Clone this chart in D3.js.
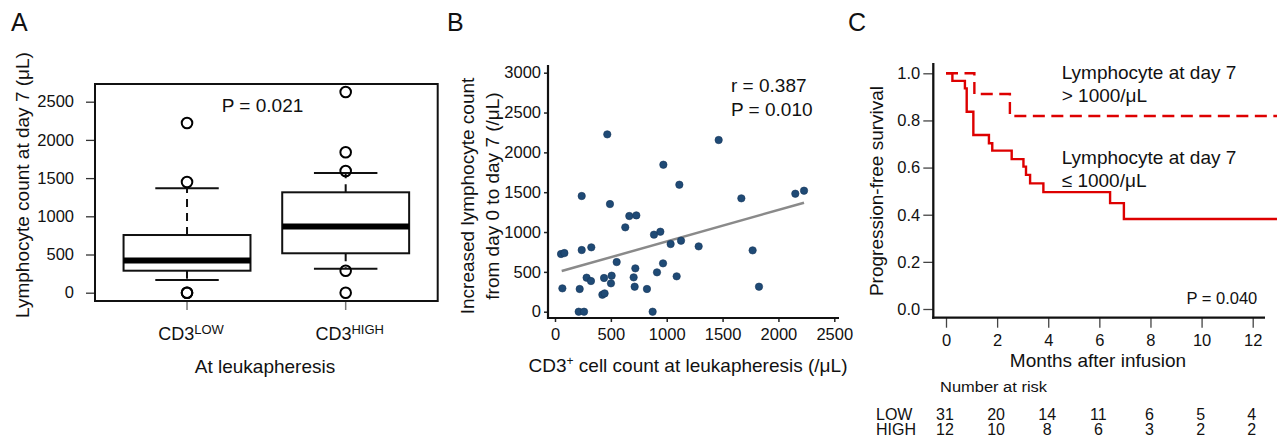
<!DOCTYPE html>
<html>
<head>
<meta charset="utf-8">
<script src="https://cdn.jsdelivr.net/npm/d3@7"></script>
<style>
  body { margin: 0; background: #fff; }
  svg text { font-family: "Liberation Sans", Arial, sans-serif; fill: #111; }
</style>
</head>
<body>
<div id="chart"></div>
<script>
// ---- Panel A: boxplot data (lymphocyte count at day 7) ----
const boxGroups = ['LOW', 'HIGH'];
const boxQ1 = [288, 516];
const boxMedian = [420, 865];
const boxQ3 = [755, 1314];
const whiskerLow = [166, 314];
const whiskerHigh = [1366, 1567];
const outliers = [
  [0, 0, 1449, 2221],
  [0, 288, 1593, 1838, 2627]
];
const boxTicks = [0, 500, 1000, 1500, 2000, 2500];

// ---- Panel B: scatter data ----
const cd3Count = [54, 84, 66, 239, 239, 221, 212, 260, 325, 283, 322, 468, 492, 439, 424, 444,
  507, 501, 552, 629, 665, 728, 719, 704, 713, 823, 874, 886, 943, 970, 967, 913, 1035, 1128,
  1113, 1089, 1286, 1465, 1668, 1769, 1826, 2151, 2229];
const lymphIncrease = [724, 736, 293, 1452, 774, 285, 0, 0, 808, 427, 385, 2226, 1351, 423, 213, 230,
  452, 356, 623, 1059, 1201, 1209, 544, 431, 314, 285, 0, 967, 1004, 1845, 607, 494, 849, 891,
  1594, 444, 820, 2155, 1423, 770, 314, 1481, 1519];
const trendX = [60, 2229];
const trendY = [510, 1368];
const scatterXTicks = [0, 500, 1000, 1500, 2000, 2500];
const scatterYTicks = [0, 500, 1000, 1500, 2000, 2500, 3000];

// ---- Panel C: Kaplan-Meier curves ----
const lowTimes = [0, 0.25, 0.74, 0.81, 1.07, 1.68, 1.81, 2.57, 3.03, 3.13, 3.29, 3.81, 6.42, 6.96, 12.95];
const lowSurv = [1.0, 0.968, 0.936, 0.837, 0.738, 0.703, 0.672, 0.636, 0.604, 0.569, 0.533, 0.496, 0.449, 0.382, 0.382];
const highTimes = [0, 1.11, 2.5, 12.95];
const highSurv = [1.0, 0.912, 0.819, 0.819];
const monthTicks = [0, 2, 4, 6, 8, 10, 12];
const survTicks = [0, 0.2, 0.4, 0.6, 0.8, 1.0];
const riskLow = [31, 20, 14, 11, 6, 5, 4];
const riskHigh = [12, 10, 8, 6, 3, 2, 2];

const width = 1285, height = 443;
const svg = d3.select('#chart').append('svg')
  .attr('width', width)
  .attr('height', height);

svg.append('rect').attr('width', width).attr('height', height).attr('fill', '#fff');

const tickFont = 16.5;
const titleFont = 19;
const plain = d3.format('d');

// panel letters
[['A', 11], ['B', 447], ['C', 848]].forEach(function(d) {
  svg.append('text').attr('x', d[1]).attr('y', 31)
    .style('font-size', '25px').text(d[0]);
});

// ================= Panel A =================
const xA = d3.scaleLinear().domain([0.42, 2.58]).range([95, 437.7]);
const yA = d3.scaleLinear().domain([0, 2500]).range([292.7, 101.7]);
const gA = svg.append('g');

// x ticks (grey, below frame)
gA.selectAll('.xtick').data(boxGroups).enter().append('line')
  .attr('x1', (d, i) => xA(i + 1)).attr('x2', (d, i) => xA(i + 1))
  .attr('y1', 301).attr('y2', 310)
  .attr('stroke', '#777').attr('stroke-width', 1.5);

const yAxisA = gA.append('g')
  .attr('transform', 'translate(95,0)')
  .call(d3.axisLeft(yA).tickValues(boxTicks).tickFormat(plain)
    .tickSize(9).tickPadding(12).tickSizeOuter(0));
yAxisA.select('.domain').remove();
yAxisA.selectAll('line').attr('stroke', '#333').attr('stroke-width', 1.3);
yAxisA.selectAll('text').style('font-size', tickFont + 'px').attr('fill', '#111')
  .style('font-family', '"Liberation Sans", Arial, sans-serif');

const hw = 0.4, cw = 0.2;
boxGroups.forEach(function(g, i) {
  const cx = i + 1;
  const box = gA.append('g');
  // dashed whiskers
  box.append('line')
    .attr('x1', xA(cx)).attr('x2', xA(cx))
    .attr('y1', yA(boxQ3[i])).attr('y2', yA(whiskerHigh[i]))
    .attr('stroke', '#111').attr('stroke-width', 2).attr('stroke-dasharray', '8,6');
  box.append('line')
    .attr('x1', xA(cx)).attr('x2', xA(cx))
    .attr('y1', yA(boxQ1[i])).attr('y2', yA(whiskerLow[i]))
    .attr('stroke', '#111').attr('stroke-width', 2).attr('stroke-dasharray', '8,6');
  // caps
  [whiskerLow[i], whiskerHigh[i]].forEach(function(v) {
    box.append('line')
      .attr('x1', xA(cx - cw)).attr('x2', xA(cx + cw))
      .attr('y1', yA(v)).attr('y2', yA(v))
      .attr('stroke', '#111').attr('stroke-width', 2);
  });
  box.append('rect')
    .attr('x', xA(cx - hw)).attr('width', xA(cx + hw) - xA(cx - hw))
    .attr('y', yA(boxQ3[i])).attr('height', yA(boxQ1[i]) - yA(boxQ3[i]))
    .attr('fill', '#fff').attr('stroke', '#111').attr('stroke-width', 2);
  box.append('line')
    .attr('x1', xA(cx - hw)).attr('x2', xA(cx + hw))
    .attr('y1', yA(boxMedian[i])).attr('y2', yA(boxMedian[i]))
    .attr('stroke', '#000').attr('stroke-width', 6);
  box.selectAll('circle').data(outliers[i]).enter().append('circle')
    .attr('cx', xA(cx)).attr('cy', d => yA(d)).attr('r', 5.3)
    .attr('fill', 'none').attr('stroke', '#000').attr('stroke-width', 2);

  const lab = gA.append('text')
    .attr('x', xA(cx) + 4).attr('y', 339.5)
    .attr('text-anchor', 'middle')
    .style('font-size', '18px');
  lab.append('tspan').text('CD3');
  lab.append('tspan').attr('dy', -6).style('font-size', '13px').text(g);
});

// frame
gA.append('rect').attr('x', 95).attr('y', 84).attr('width', 342.7).attr('height', 217)
  .attr('fill', 'none').attr('stroke', '#111').attr('stroke-width', 2);

gA.append('text').attr('x', 262.5).attr('y', 111.7).attr('text-anchor', 'middle')
  .style('font-size', titleFont + 'px').text('P = 0.021');
gA.append('text').attr('x', 265).attr('y', 373).attr('text-anchor', 'middle')
  .style('font-size', titleFont + 'px').text('At leukapheresis');
gA.append('text').attr('transform', 'translate(29,185) rotate(-90)').attr('text-anchor', 'middle')
  .style('font-size', titleFont + 'px').text('Lymphocyte count at day 7 (μL)');

// ================= Panel B =================
const xB = d3.scaleLinear().domain([0, 2500]).range([555, 834.3]);
const yB = d3.scaleLinear().domain([0, 3000]).range([311.7, 72.7]);
const gB = svg.append('g');

const yAxisB = gB.append('g').attr('transform', 'translate(548,0)')
  .call(d3.axisLeft(yB).tickValues(scatterYTicks).tickFormat(plain)
    .tickSize(4).tickPadding(3).tickSizeOuter(0));
const xAxisB = gB.append('g').attr('transform', 'translate(0,318)')
  .call(d3.axisBottom(xB).tickValues(scatterXTicks).tickFormat(plain)
    .tickSize(4).tickPadding(6.5).tickSizeOuter(0));
[yAxisB, xAxisB].forEach(function(ax) {
  ax.select('.domain').remove();
  ax.selectAll('line').attr('stroke', '#222').attr('stroke-width', 1.5);
  ax.selectAll('text').style('font-size', tickFont + 'px').attr('fill', '#111')
    .style('font-family', '"Liberation Sans", Arial, sans-serif');
});
gB.append('line').attr('x1', 548).attr('x2', 548).attr('y1', 65).attr('y2', 319)
  .attr('stroke', '#111').attr('stroke-width', 2.2);
gB.append('line').attr('x1', 549).attr('x2', 839).attr('y1', 318).attr('y2', 318)
  .attr('stroke', '#111').attr('stroke-width', 2.2);

gB.append('line')
  .attr('x1', xB(trendX[0])).attr('y1', yB(trendY[0]))
  .attr('x2', xB(trendX[1])).attr('y2', yB(trendY[1]))
  .attr('stroke', '#8a8a8a').attr('stroke-width', 2.5);

gB.selectAll('.dot').data(d3.range(cd3Count.length)).enter().append('circle')
  .attr('cx', i => xB(cd3Count[i])).attr('cy', i => yB(lymphIncrease[i]))
  .attr('r', 3.7)
  .attr('fill', '#1f4a75').attr('stroke', '#15355a').attr('stroke-width', 0.6);

gB.append('text').attr('x', 731).attr('y', 91.7)
  .style('font-size', titleFont + 'px').text('r = 0.387');
gB.append('text').attr('x', 731).attr('y', 115.7)
  .style('font-size', titleFont + 'px').text('P = 0.010');

const xtB = gB.append('text').attr('x', 688).attr('y', 371.7).attr('text-anchor', 'middle')
  .style('font-size', titleFont + 'px');
xtB.append('tspan').text('CD3');
xtB.append('tspan').attr('dy', -7).style('font-size', '12px').text('+');
xtB.append('tspan').attr('dy', 7).text(' cell count at leukapheresis (/μL)');

gB.append('text').attr('transform', 'translate(473.5,196) rotate(-90)').attr('text-anchor', 'middle')
  .style('font-size', titleFont + 'px').text('Increased lymphocyte count');
gB.append('text').attr('transform', 'translate(498.5,196) rotate(-90)').attr('text-anchor', 'middle')
  .style('font-size', titleFont + 'px').text('from day 0 to day 7 (/μL)');

// ================= Panel C =================
const xC = d3.scaleLinear().domain([0, 12]).range([946, 1252.7]);
const yC = d3.scaleLinear().domain([0, 1]).range([309, 73.3]);
const gC = svg.append('g');

const yAxisC = gC.append('g').attr('transform', 'translate(933.3,0)')
  .call(d3.axisLeft(yC).tickValues(survTicks).tickFormat(d3.format('.1f'))
    .tickSize(10).tickPadding(3).tickSizeOuter(0));
const xAxisC = gC.append('g').attr('transform', 'translate(0,317.7)')
  .call(d3.axisBottom(xC).tickValues(monthTicks).tickSize(10).tickPadding(7).tickSizeOuter(0));
[yAxisC, xAxisC].forEach(function(ax) {
  ax.select('.domain').remove();
  ax.selectAll('line').attr('stroke', '#444').attr('stroke-width', 1.3);
  ax.selectAll('text').style('font-size', tickFont + 'px').attr('fill', '#111')
    .style('font-family', '"Liberation Sans", Arial, sans-serif');
});
gC.append('line').attr('x1', 933.3).attr('x2', 933.3).attr('y1', 63).attr('y2', 318.8)
  .attr('stroke', '#111').attr('stroke-width', 2.3);
gC.append('line').attr('x1', 932.2).attr('x2', 1265).attr('y1', 317.7).attr('y2', 317.7)
  .attr('stroke', '#111').attr('stroke-width', 2.3);

const kmLine = d3.line().curve(d3.curveStepAfter)
  .x(d => xC(d[0])).y(d => yC(d[1]));
gC.append('path')
  .attr('d', kmLine(lowTimes.map((t, i) => [t, lowSurv[i]])))
  .attr('fill', 'none').attr('stroke', '#dd0000').attr('stroke-width', 2.4);
gC.append('path')
  .attr('d', kmLine(highTimes.map((t, i) => [t, highSurv[i]])))
  .attr('fill', 'none').attr('stroke', '#dd0000').attr('stroke-width', 2.4)
  .attr('stroke-dasharray', '12,6.5');

const legendLines = [
  ['Lymphocyte at day 7', 79.3],
  ['> 1000/μL', 101.7],
  ['Lymphocyte at day 7', 164],
  ['≤ 1000/μL', 186.7]
];
gC.selectAll('.leg').data(legendLines).enter().append('text')
  .attr('x', 1061.7).attr('y', d => d[1])
  .style('font-size', titleFont + 'px').text(d => d[0]);

gC.append('text').attr('x', 1257.3).attr('y', 304).attr('text-anchor', 'end')
  .style('font-size', tickFont + 'px').text('P = 0.040');

gC.append('text').attr('x', 1098).attr('y', 366.7).attr('text-anchor', 'middle')
  .style('font-size', titleFont + 'px').text('Months after infusion');
gC.append('text').attr('transform', 'translate(882.5,191) rotate(-90)').attr('text-anchor', 'middle')
  .style('font-size', titleFont + 'px').text('Progression-free survival');

// number at risk table
const riskFont = 16;
gC.append('text').attr('x', 940).attr('y', 391.5)
  .style('font-size', '14px')
  .attr('textLength', 107).attr('lengthAdjust', 'spacingAndGlyphs')
  .text('Number at risk');
[['LOW', riskLow, 420], ['HIGH', riskHigh, 435]].forEach(function(row) {
  gC.append('text').attr('x', 876).attr('y', row[2])
    .style('font-size', riskFont + 'px').text(row[0]);
  gC.selectAll('.risk-' + row[0]).data(row[1]).enter().append('text')
    .attr('x', (d, i) => xC(monthTicks[i]) - 1)
    .attr('y', row[2]).attr('text-anchor', 'middle')
    .style('font-size', riskFont + 'px').text(d => d);
});
</script>
</body>
</html>
